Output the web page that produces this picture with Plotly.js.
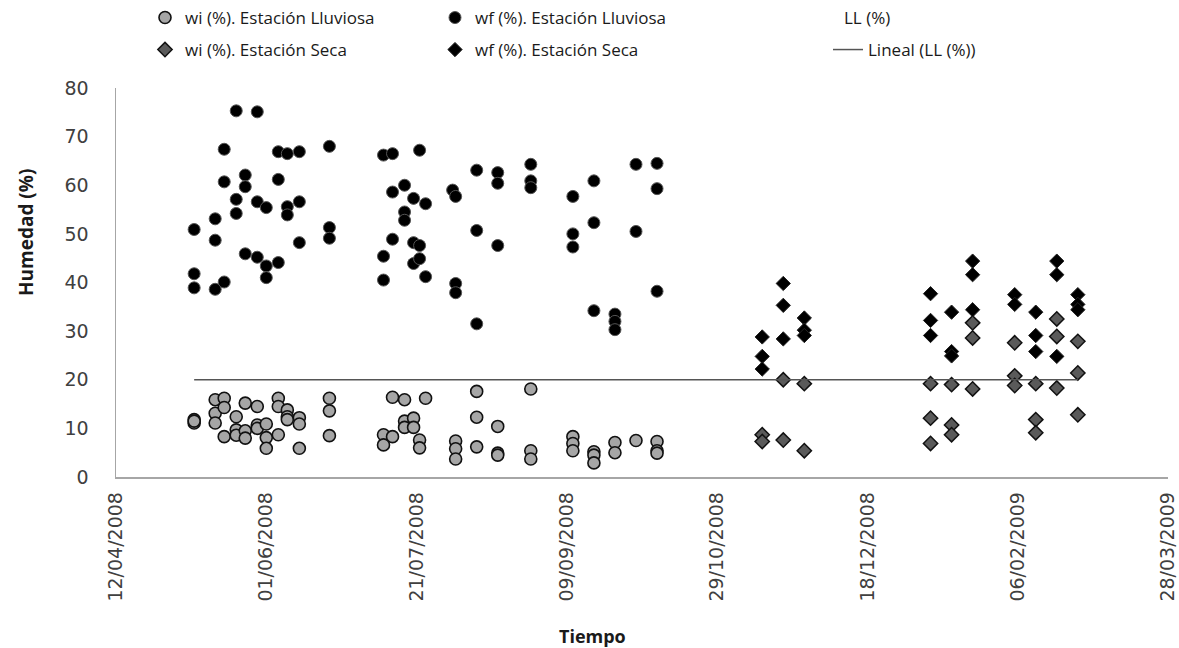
<!DOCTYPE html>
<html>
<head>
<meta charset="utf-8">
<script src="https://cdn.plot.ly/plotly-3.0.1.min.js"></script>
<style>html,body{margin:0;padding:0;background:#fff;}#chart{width:1179px;height:648px;}</style>
</head>
<body>
<div id="chart"></div>
<script>
// ---- Data ----
var wiWetDates = [
 '2008-05-08','2008-05-08','2008-05-08',
 '2008-05-15','2008-05-15','2008-05-15',
 '2008-05-18','2008-05-18','2008-05-18',
 '2008-05-22','2008-05-22','2008-05-22',
 '2008-05-25','2008-05-25','2008-05-25',
 '2008-05-29','2008-05-29','2008-05-29',
 '2008-06-01','2008-06-01','2008-06-01',
 '2008-06-05','2008-06-05','2008-06-05',
 '2008-06-08','2008-06-08','2008-06-08',
 '2008-06-12','2008-06-12','2008-06-12',
 '2008-06-22','2008-06-22','2008-06-22',
 '2008-07-10','2008-07-10',
 '2008-07-13','2008-07-13',
 '2008-07-17','2008-07-17','2008-07-17',
 '2008-07-20','2008-07-20',
 '2008-07-22','2008-07-22',
 '2008-07-24',
 '2008-08-03','2008-08-03','2008-08-03',
 '2008-08-10','2008-08-10','2008-08-10',
 '2008-08-17','2008-08-17','2008-08-17',
 '2008-08-28','2008-08-28','2008-08-28',
 '2008-09-11','2008-09-11','2008-09-11',
 '2008-09-18','2008-09-18','2008-09-18',
 '2008-09-25','2008-09-25',
 '2008-10-02',
 '2008-10-09','2008-10-09','2008-10-09'
];
var wiWetValues = [
 11.8, 11.1, 11.5,
 15.9, 13.1, 11.1,
 16.2, 14.3, 8.3,
 12.4, 9.7, 8.6,
 15.2, 9.5, 8.0,
 14.5, 10.7, 10.0,
 10.9, 8.1, 5.9,
 16.2, 14.5, 8.7,
 13.8, 12.4, 11.8,
 12.2, 10.9, 5.9,
 16.2, 13.6, 8.5,
 8.7, 6.6,
 16.4, 8.3,
 15.9, 11.5, 10.2,
 12.1, 10.2,
 7.6, 6.0,
 16.2,
 7.4, 5.8, 3.7,
 17.6, 12.3, 6.2,
 10.4, 4.9, 4.5,
 18.1, 5.4, 3.7,
 8.3, 6.9, 5.4,
 5.2, 4.5, 2.9,
 7.1, 5.0,
 7.5,
 7.3, 5.4, 4.9
];
var wfWetDates = [
 '2008-05-08','2008-05-08','2008-05-08',
 '2008-05-15','2008-05-15','2008-05-15',
 '2008-05-18','2008-05-18','2008-05-18',
 '2008-05-22','2008-05-22','2008-05-22',
 '2008-05-25','2008-05-25','2008-05-25',
 '2008-05-29','2008-05-29','2008-05-29',
 '2008-06-01','2008-06-01','2008-06-01',
 '2008-06-05','2008-06-05','2008-06-05',
 '2008-06-08','2008-06-08','2008-06-08',
 '2008-06-12','2008-06-12','2008-06-12',
 '2008-06-22','2008-06-22','2008-06-22',
 '2008-07-10','2008-07-10','2008-07-10',
 '2008-07-13','2008-07-13','2008-07-13',
 '2008-07-17','2008-07-17','2008-07-17',
 '2008-07-20','2008-07-20','2008-07-20',
 '2008-07-22','2008-07-22','2008-07-22',
 '2008-07-24','2008-07-24',
 '2008-08-02','2008-08-03','2008-08-03','2008-08-03',
 '2008-08-10','2008-08-10','2008-08-10',
 '2008-08-17','2008-08-17','2008-08-17',
 '2008-08-28','2008-08-28','2008-08-28',
 '2008-09-11','2008-09-11','2008-09-11',
 '2008-09-18','2008-09-18','2008-09-18',
 '2008-09-25','2008-09-25','2008-09-25',
 '2008-10-02','2008-10-02',
 '2008-10-09','2008-10-09','2008-10-09'
];
var wfWetValues = [
 50.9, 41.8, 38.9,
 53.1, 48.7, 38.6,
 67.4, 60.7, 40.1,
 75.3, 57.1, 54.2,
 62.1, 59.7, 45.9,
 75.1, 56.6, 45.2,
 55.4, 43.4, 41.0,
 66.9, 61.2, 44.1,
 66.5, 55.6, 53.9,
 66.9, 56.6, 48.2,
 68.0, 51.3, 49.1,
 66.2, 45.4, 40.5,
 66.5, 58.6, 48.9,
 60.0, 54.5, 52.8,
 57.3, 48.2, 43.9,
 67.2, 47.6, 44.9,
 56.2, 41.2,
 59.0, 57.7, 39.8, 37.9,
 63.1, 50.7, 31.5,
 62.6, 60.4, 47.6,
 64.3, 60.9, 59.5,
 57.7, 50.0, 47.3,
 60.9, 52.3, 34.2,
 33.5, 32.0, 30.3,
 64.3, 50.5,
 64.5, 59.3, 38.2
];
var wiDryDates = [
 '2008-11-13','2008-11-13',
 '2008-11-20','2008-11-20',
 '2008-11-27','2008-11-27',
 '2009-01-08','2009-01-08','2009-01-08',
 '2009-01-15','2009-01-15','2009-01-15',
 '2009-01-22','2009-01-22','2009-01-22',
 '2009-02-05','2009-02-05','2009-02-05',
 '2009-02-12','2009-02-12','2009-02-12',
 '2009-02-19','2009-02-19','2009-02-19',
 '2009-02-26','2009-02-26','2009-02-26'
];
var wiDryValues = [
 8.7, 7.3,
 20.0, 7.6,
 19.2, 5.4,
 19.2, 12.1, 6.9,
 19.0, 10.7, 8.7,
 31.7, 28.6, 18.1,
 27.6, 20.8, 18.8,
 19.2, 11.8, 9.1,
 32.5, 28.9, 18.3,
 27.9, 21.4, 12.8
];
var wfDryDates = [
 '2008-11-13','2008-11-13','2008-11-13',
 '2008-11-20','2008-11-20','2008-11-20',
 '2008-11-27','2008-11-27','2008-11-27',
 '2009-01-08','2009-01-08','2009-01-08',
 '2009-01-15','2009-01-15','2009-01-15',
 '2009-01-22','2009-01-22','2009-01-22',
 '2009-02-05','2009-02-05',
 '2009-02-12','2009-02-12','2009-02-12',
 '2009-02-19','2009-02-19','2009-02-19',
 '2009-02-26','2009-02-26','2009-02-26'
];
var wfDryValues = [
 28.8, 24.8, 22.2,
 39.8, 35.3, 28.4,
 32.7, 30.2, 29.1,
 37.7, 32.2, 29.1,
 33.9, 25.8, 24.9,
 44.4, 41.6, 34.4,
 37.5, 35.5,
 33.9, 29.1, 25.8,
 44.4, 41.6, 24.8,
 37.5, 35.5, 34.4
];
var llDates = ['2008-05-08','2009-02-26'];
var llValues = [20, 20];

var tickDates = ['2008-04-12','2008-06-01','2008-07-21','2008-09-09','2008-10-29','2008-12-18','2009-02-06','2009-03-28'];
var tickLabels = ['12/04/2008','01/06/2008','21/07/2008','09/09/2008','29/10/2008','18/12/2008','06/02/2009','28/03/2009'];
var yTicks = [0,10,20,30,40,50,60,70,80];

// ---- Styling / layout ----
var W = 1179, H = 648, L = 116, R = 11, T = 88, B = 171;
var pw = W - L - R, ph = H - T - B;
function px2x(p){ return (p - L) / pw; }
function px2y(p){ return (H - B - p) / ph; }

var legFont = {family: 'Open Sans, sans-serif', size: 17, color: '#1a1a1a'};
function leg(xpx, ypx){
  return {x: px2x(xpx), y: px2y(ypx), xanchor: 'left', yanchor: 'middle',
          font: legFont, bgcolor: 'rgba(0,0,0,0)', borderwidth: 0, orientation: 'v'};
}

var traces = [
 {name: 'wi (%). Estación Lluviosa', x: wiWetDates, y: wiWetValues, type: 'scatter', mode: 'markers',
  marker: {symbol: 'circle', size: 12, color: '#a6a6a6', line: {color: '#111', width: 1.6}}, legend: 'legend'},
 {name: 'wf (%). Estación Lluviosa', x: wfWetDates, y: wfWetValues, type: 'scatter', mode: 'markers',
  marker: {symbol: 'circle', size: 12, color: '#000', line: {color: '#555', width: 1}}, legend: 'legend2'},
 {name: 'LL (%)', x: llDates, y: llValues, type: 'scatter', mode: 'markers',
  marker: {size: 8, color: 'rgba(0,0,0,0)'}, legend: 'legend3'},
 {name: 'wi (%). Estación Seca', x: wiDryDates, y: wiDryValues, type: 'scatter', mode: 'markers',
  marker: {symbol: 'diamond', size: 11, color: '#5a5a5a', line: {color: '#111', width: 1.5}}, legend: 'legend4'},
 {name: 'wf (%). Estación Seca', x: wfDryDates, y: wfDryValues, type: 'scatter', mode: 'markers',
  marker: {symbol: 'diamond', size: 11, color: '#000', line: {color: '#222', width: 1}}, legend: 'legend5'},
 {name: 'Lineal (LL (%))', x: llDates, y: llValues, type: 'scatter', mode: 'lines',
  line: {color: '#555', width: 1.5}, legend: 'legend6'}
];

var tickFont = {family: 'DejaVu Sans, Verdana, sans-serif', size: 19, color: '#404040'};

var layout = {
  width: W, height: H,
  margin: {l: L, r: R, t: T, b: B, pad: 0, autoexpand: false},
  paper_bgcolor: '#fff', plot_bgcolor: '#fff',
  showlegend: true,
  xaxis: {
    type: 'date', range: ['2008-04-12', '2009-03-28'],
    tickmode: 'array', tickvals: tickDates, ticktext: tickLabels,
    tickangle: -90, tickfont: tickFont,
    showgrid: false, zeroline: false,
    showline: true, linecolor: '#a6a6a6', linewidth: 1.5,
    ticks: 'outside', ticklen: 6, tickcolor: 'rgba(0,0,0,0)',
    automargin: false, fixedrange: true
  },
  yaxis: {
    range: [0, 80], tickmode: 'array', tickvals: yTicks,
    tickfont: tickFont, showgrid: false, zeroline: false,
    showline: true, linecolor: '#a6a6a6', linewidth: 1.5,
    ticks: 'outside', ticklen: 22, tickcolor: 'rgba(0,0,0,0)',
    automargin: false, fixedrange: true
  },
  legend: leg(145, 18),
  legend2: leg(435, 18),
  legend3: leg(804, 18),
  legend4: leg(145, 50),
  legend5: leg(435, 50),
  legend6: leg(828, 50),
  annotations: [
    {text: '<b>Humedad (%)</b>', x: px2x(26), y: px2y(233), xref: 'paper', yref: 'paper',
     textangle: -90, showarrow: false, xanchor: 'center', yanchor: 'middle',
     font: {family: 'Open Sans, sans-serif', size: 19, color: '#1a1a1a'}},
    {text: '<b>Tiempo</b>', x: px2x(592), y: px2y(636), xref: 'paper', yref: 'paper',
     showarrow: false, xanchor: 'center', yanchor: 'middle',
     font: {family: 'Open Sans, sans-serif', size: 18, color: '#1a1a1a'}}
  ]
};

Plotly.newPlot('chart', traces, layout, {displayModeBar: false, staticPlot: true});
</script>
</body>
</html>
